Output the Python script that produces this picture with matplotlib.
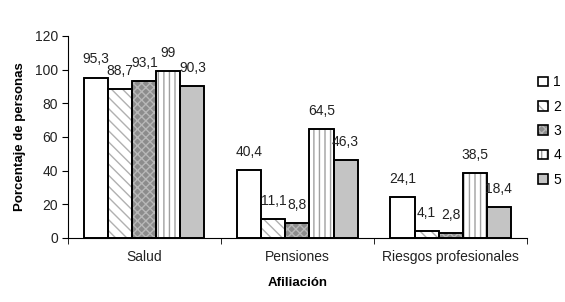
import matplotlib.pyplot as plt
import numpy as np

plt.rcParams['font.family'] = ['Liberation Sans', 'DejaVu Sans']
plt.rcParams['hatch.linewidth'] = 1.0

categories = ["Salud", "Pensiones", "Riesgos profesionales"]
series_names = ["1", "2", "3", "4", "5"]
values = [
    [95.3, 40.4, 24.1],
    [88.7, 11.1, 4.1],
    [93.1, 8.8, 2.8],
    [99, 64.5, 38.5],
    [90.3, 46.3, 18.4],
]

facecolors = ["white", "white", "#8c8c8c", "white", "#c4c4c4"]
hatches = [None, "\\\\\\", "xxxx", "|||", None]
hatchcolors = ["black", "#b0b0b0", "#b8b8b8", "#a0a0a0", "black"]

fig = plt.figure(figsize=(5.65, 3.02), dpi=100)
ax = fig.add_axes([0.120, 0.212, 0.813, 0.669])

x = np.arange(len(categories))
width = 0.157
for i, (name, vals) in enumerate(zip(series_names, values)):
    pos = x - 2 * width + i * width
    bars = ax.bar(pos, vals, width, color=facecolors[i], edgecolor="black",
                  linewidth=1.2, label=name)
    for b in bars:
        if hatches[i]:
            b.set_hatch(hatches[i])
            b._hatch_color = plt.matplotlib.colors.to_rgba(hatchcolors[i])
    for p, v in zip(pos, vals):
        txt = ("%g" % v).replace(".", ",")
        ax.annotate(txt, (p, v), xytext=(0, 8), textcoords="offset points",
                    ha="center", va="bottom", fontsize=10, color="#222222")

# redraw edges over hatching
for i, vals in enumerate(values):
    pos = x - 2 * width + i * width
    ax.bar(pos, vals, width, fill=False, edgecolor="black", linewidth=1.2)

ax.set_xlim(-0.5, 2.5)
ax.set_ylim(0, 120)
ax.set_yticks(range(0, 121, 20))
ax.set_xticks(x)
ax.set_xticklabels(categories)
ax.set_xticks([-0.5, 0.5, 1.5, 2.5], minor=True)
ax.tick_params(axis="x", which="major", length=0, pad=9, labelsize=10,
               labelcolor="#222222")
ax.tick_params(axis="x", which="minor", length=4, direction="out")
ax.tick_params(axis="y", length=4, labelsize=10, pad=3, labelcolor="#222222")
ax.spines["top"].set_visible(False)
ax.spines["right"].set_visible(False)
ax.set_xlabel("Afiliación", fontsize=9.5, fontweight="bold", labelpad=9)
ax.set_ylabel("Porcentaje de personas", fontsize=9.5, fontweight="bold",
              labelpad=6)

handles, labels = ax.get_legend_handles_labels()
leg = fig.legend(handles[:5], labels[:5], loc="center left",
                 bbox_to_anchor=(0.93, 0.566), frameon=False, fontsize=10,
                 handlelength=0.7, handleheight=0.7, labelspacing=0.75,
                 handletextpad=0.4)

fig.savefig("out.png", dpi=100)
